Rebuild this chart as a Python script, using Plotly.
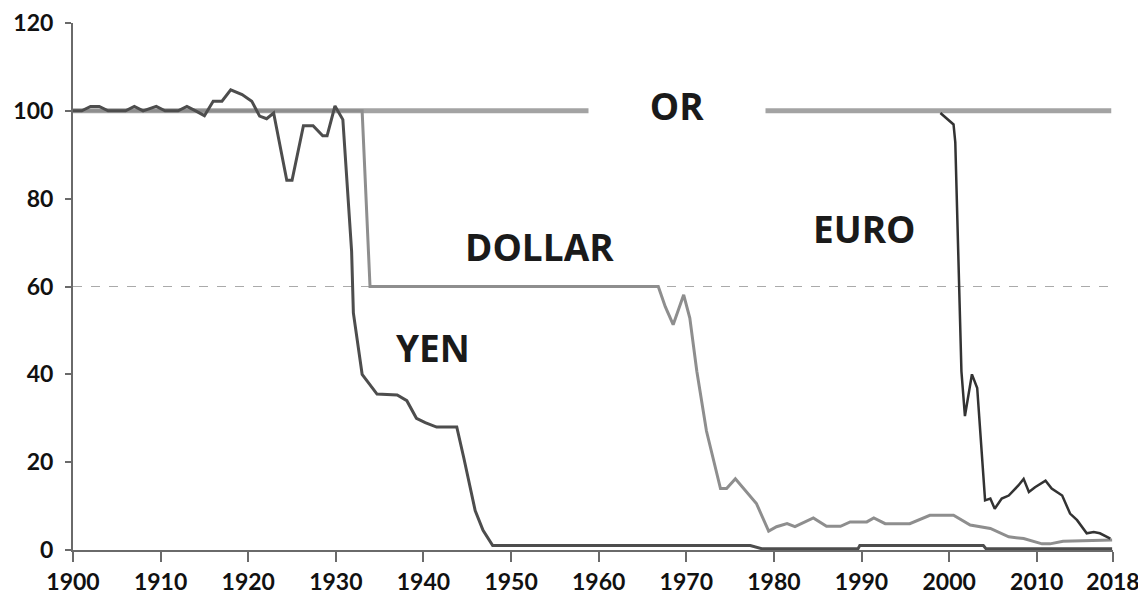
import plotly.graph_objects as go

# ---- data ----
or_years = [1900, 2018.5]
or_values = [100, 100]

dollar_years = [1900, 1933.0, 1933.9, 1966.8, 1967.6, 1968.5, 1969.7, 1970.4, 1971.2, 1972.3,
                1973.9, 1974.6, 1975.6, 1978.0, 1979.4, 1980.3, 1981.5, 1982.4, 1984.5, 1986.0,
                1987.6, 1988.7, 1990.6, 1991.4, 1992.7, 1995.5, 1997.8, 2000.5, 2002.4, 2004.7,
                2006.8, 2008.5, 2010.6, 2011.5, 2013.0, 2018.6]
dollar_values = [100, 100, 60, 60, 55.4, 51.3, 58.1, 52.8, 40.7, 27.1,
                 14.0, 14.0, 16.2, 10.6, 4.3, 5.3, 6.0, 5.3, 7.3, 5.4,
                 5.4, 6.4, 6.4, 7.3, 6.0, 6.0, 7.9, 7.9, 5.7, 4.9,
                 3.0, 2.6, 1.4, 1.4, 2.0, 2.3]

yen_years = [1900, 1901, 1902, 1903, 1904, 1906, 1907, 1908, 1909.5, 1910.5, 1912, 1913, 1914,
             1915, 1916, 1917, 1918, 1919.3, 1920.4, 1921.3, 1922.1, 1922.9, 1924.4, 1925,
             1926.3, 1927.4, 1928.5, 1929, 1929.9, 1930.8, 1931.8, 1932.0, 1933.0, 1934.7,
             1937.0, 1938.1, 1939.2, 1940.2, 1941.5, 1943.8, 1944.6, 1945.9, 1946.8, 1947.9,
             1977.3, 1978.6, 1989.6, 1989.8, 2003.9, 2004.2, 2018.6]
yen_values = [100, 100, 101, 101, 100, 100, 101, 100, 101, 100, 100, 101, 100,
              98.9, 102.2, 102.2, 104.8, 103.7, 102.2, 98.8, 98.2, 99.5, 84.2, 84.2,
              96.6, 96.6, 94.3, 94.3, 101.1, 98.0, 68.0, 54.0, 40.0, 35.5,
              35.3, 34.0, 30.0, 29.0, 28.0, 28.0, 21.0, 9.0, 4.5, 1.0,
              1.0, 0.3, 0.3, 1.0, 1.0, 0.3, 0.3]

euro_years = [1999.0, 2000.5, 2000.7, 2001.1, 2001.4, 2001.8, 2002.6, 2003.2, 2004.1, 2004.7,
              2005.2, 2006.0, 2006.8, 2007.9, 2008.5, 2009.1, 2009.8, 2011.0, 2011.7, 2012.9,
              2013.8, 2014.6, 2015.7, 2016.5, 2017.2, 2018.4]
euro_values = [99.5, 96.9, 92.8, 61.0, 40.7, 30.5, 40.0, 36.9, 11.3, 11.7,
               9.4, 11.7, 12.4, 14.7, 16.2, 13.2, 14.3, 15.8, 14.0, 12.4,
               8.3, 6.8, 3.8, 4.1, 3.8, 2.6]

x_tick_vals = [1900, 1910, 1920, 1930, 1940, 1950, 1960, 1970, 1980, 1990, 2000, 2010, 2018.7]
x_tick_text = ["1900", "1910", "1920", "1930", "1940", "1950", "1960", "1970", "1980",
               "1990", "2000", "2010", "2018"]
y_tick_vals = [0, 20, 40, 60, 80, 100, 120]

labels = ["OR", "DOLLAR", "EURO", "YEN"]
label_x = [1968.9, 1953.3, 1990.3, 1941.1]
label_y = [101.3, 69.0, 73.2, 46.0]

# ---- figure ----
fig = go.Figure()
fig.add_trace(go.Scatter(x=or_years, y=or_values, mode="lines",
                         line=dict(color="#a3a3a3", width=5), name="OR"))
fig.add_trace(go.Scatter(x=dollar_years, y=dollar_values, mode="lines",
                         line=dict(color="#8e8e8e", width=3), name="DOLLAR"))
fig.add_trace(go.Scatter(x=yen_years, y=yen_values, mode="lines",
                         line=dict(color="#4d4d4d", width=3), name="YEN"))
fig.add_trace(go.Scatter(x=euro_years, y=euro_values, mode="lines",
                         line=dict(color="#333333", width=2.5), name="EURO"))

# dashed reference line at 60
fig.add_shape(type="line", xref="x", yref="y", x0=1900, x1=2018.5, y0=60, y1=60,
              line=dict(color="#aaaaaa", width=1, dash="dash"), layer="below")

label_font = dict(family="Open Sans", size=37, color="#1a1a1a", weight="bold")
for i, txt in enumerate(labels):
    if txt == "OR":
        fig.add_annotation(x=label_x[i], y=label_y[i], text=txt, showarrow=False,
                           font=label_font, bgcolor="white", width=176, height=40,
                           xanchor="center", yanchor="middle", borderpad=0)
    else:
        fig.add_annotation(x=label_x[i], y=label_y[i], text=txt, showarrow=False,
                           font=label_font, xanchor="center", yanchor="middle")

tick_font = dict(family="Lato", size=23, color="#111111", weight="bold")
fig.update_xaxes(range=[1900, 2018.7], tickvals=x_tick_vals, ticktext=x_tick_text,
                 showgrid=False, zeroline=False, showline=True, linecolor="#6a6a6a",
                 linewidth=2, ticks="outside", ticklen=10, tickwidth=2, tickcolor="#6a6a6a",
                 tickfont=tick_font, ticklabeloverflow="allow", automargin=False)
fig.update_yaxes(range=[0, 120], tickvals=y_tick_vals, showgrid=False, zeroline=False,
                 showline=True, linecolor="#6a6a6a", linewidth=2, ticks="outside",
                 ticklen=6, tickwidth=2, tickcolor="#6a6a6a", tickfont=tick_font,
                 ticklabelstandoff=7, ticklabeloverflow="allow", automargin=False)

# the page body has an 8px margin, so the figure is sized to fit inside the window
fig.update_layout(width=1138, height=591, plot_bgcolor="white", paper_bgcolor="white",
                  showlegend=False,
                  margin=dict(l=65, r=33, t=15, b=49, autoexpand=False))

fig.write_html("out.html")
